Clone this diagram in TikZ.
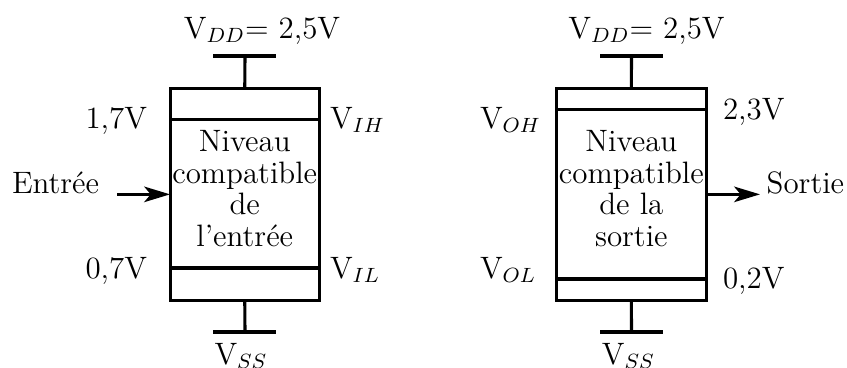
\documentclass[tikz,border=0pt]{standalone}
\usetikzlibrary{arrows.meta}
\begin{document}
\begin{tikzpicture}[x=0.3876pt,y=-0.3876pt,
  every node/.style={font=\fontsize{12}{12.3}\selectfont, inner sep=0pt, outer sep=0pt},
  lvlbox/.style={draw, line width=1.2pt, minimum width=57.9pt, minimum height=82.4pt},
  wire/.style={line width=1.2pt},
  sig/.style={line width=1.2pt, -{Stealth[length=10pt,width=6pt,inset=2.5pt]}},
  inner/.style={align=center, anchor=base}]
\useasboundingbox (0,0) rectangle (847,367);

% ---------- left block ----------
\node[lvlbox] (L) at (244.75,194.35) {};
\draw[wire] ([yshift=-31*0.3876pt]L.north west) coordinate (LIHw) -- ([yshift=-31*0.3876pt]L.north east) coordinate (LIHe);
\draw[wire] ([yshift=32.7*0.3876pt]L.south west) coordinate (LILw) -- ([yshift=32.7*0.3876pt]L.south east) coordinate (LILe);
\coordinate (LT) at (245,56);
\coordinate (LTa) at (213,56);
\coordinate (LTb) at (276,56);
\draw[wire] (L.north) -- (LT);
\draw[wire] (LTa) -- (LTb);
\coordinate (LB) at (245,332);
\coordinate (LBa) at (213,332);
\coordinate (LBb) at (276,332);
\draw[wire] (L.south) -- (LB);
\draw[wire] (LBa) -- (LBb);
\node[anchor=base] (LVDD) at (262,38) {V$_{DD}$= 2,5V};
\node[anchor=base] (LVSS) at (241,364) {V$_{SS}$};
\node[anchor=base east] (L17) at (147,128) {1,7V};
\node[anchor=base west] (LVIH) at (330,128) {V$_{IH}$};
\node[anchor=base east] (L07) at (147,278) {0,7V};
\node[anchor=base west] (LVIL) at (330,278) {V$_{IL}$};
\node[inner] (Ltxt) at (244.75,246.7) {Niveau\\compatible\\de\\l'entrée};
\node[anchor=base west] (In) at (12,193) {Entrée};
\coordinate (InA) at (117,194.35);
\draw[sig] (InA) -- (L.west);

% ---------- right block ----------
\node[lvlbox] (R) at (631.35,194.35) {};
\draw[wire] ([yshift=-21*0.3876pt]R.north west) coordinate (ROHw) -- ([yshift=-21*0.3876pt]R.north east) coordinate (ROHe);
\draw[wire] ([yshift=21.7*0.3876pt]R.south west) coordinate (ROLw) -- ([yshift=21.7*0.3876pt]R.south east) coordinate (ROLe);
\coordinate (RT) at (631.5,56);
\coordinate (RTa) at (600,56);
\coordinate (RTb) at (663,56);
\draw[wire] (R.north) -- (RT);
\draw[wire] (RTa) -- (RTb);
\coordinate (RB) at (631.5,332);
\coordinate (RBa) at (600,332);
\coordinate (RBb) at (663,332);
\draw[wire] (R.south) -- (RB);
\draw[wire] (RBa) -- (RBb);
\node[anchor=base] (RVDD) at (646.5,38) {V$_{DD}$= 2,5V};
\node[anchor=base] (RVSS) at (628.3,364) {V$_{SS}$};
\node[anchor=base west] (RVOH) at (480,128) {V$_{OH}$};
\node[anchor=base west] (R23) at (723,119) {2,3V};
\node[anchor=base west] (RVOL) at (480,278) {V$_{OL}$};
\node[anchor=base west] (R02) at (723,288) {0,2V};
\node[inner] (Rtxt) at (631.35,246.7) {Niveau\\compatible\\de la\\sortie};
\coordinate (OutA) at (760,194.35);
\draw[sig] (R.east) -- (OutA);
\node[anchor=base west] (Out) at (766.7,193) {Sortie};
\end{tikzpicture}
\end{document}
